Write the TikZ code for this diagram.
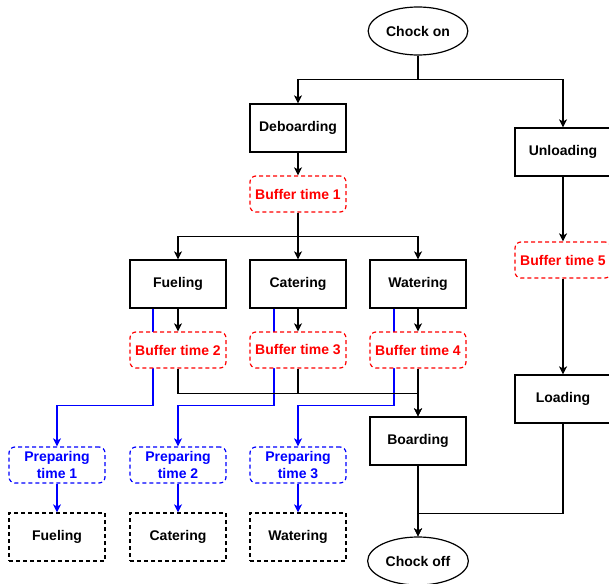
\documentclass[tikz,border=0pt]{standalone}
\usepackage{fontspec}
\setmainfont{Liberation Sans}
\usetikzlibrary{arrows.meta,shapes.geometric}

\begin{document}
\begin{tikzpicture}[
    x=1pt, y=-1pt,
    font=\bfseries\fontsize{14}{17}\selectfont,
    box/.style={draw, line width=1.2pt, fill=white, minimum width=96pt, minimum height=48pt, align=center},
    task/.style={box, dash pattern=on 4pt off 3pt},
    buffer/.style={draw=red, text=red, line width=1.2pt, fill=white, dash pattern=on 4pt off 3pt,
                   rounded corners=6pt, minimum width=96pt, minimum height=36pt, align=center},
    prep/.style={buffer, draw=blue, text=blue},
    term/.style={ellipse, draw, line width=1.2pt, fill=white, minimum width=96pt, minimum height=48pt},
    flow/.style={line width=1.2pt, -{Stealth[length=8pt, width=8pt, inset=2pt]}},
    link/.style={line width=1.2pt},
    blueflow/.style={flow, blue},
]
    \useasboundingbox (0,0) rectangle (609,583);
    \clip (0,0) rectangle (609,583);

    % Start and end
    \node[term] (chockon) at (418, 31) {Chock on};
    \node[term] (chockoff) at (418, 561) {Chock off};

    % Main tasks
    \node[box] (deboard) at (298, 128) {Deboarding};
    \node[box] (unload) at (563, 152) {Unloading};
    \node[box] (fuel) at (178, 284) {Fueling};
    \node[box] (cater) at (298, 284) {Catering};
    \node[box] (water) at (418, 284) {Watering};
    \node[box] (board) at (418, 441) {Boarding};
    \node[box] (load) at (563, 399) {Loading};

    % Preparing and follow-up tasks
    \node[prep] (prep1) at (57, 465) {Preparing\\time 1};
    \node[prep] (prep2) at (178, 465) {Preparing\\time 2};
    \node[prep] (prep3) at (298, 465) {Preparing\\time 3};
    \node[task] (fuel2) at (57, 537) {Fueling};
    \node[task] (cater2) at (178, 537) {Catering};
    \node[task] (water2) at (298, 537) {Watering};

    % Blue paths (behind the buffers)
    \draw[blueflow] ([xshift=-25pt]fuel.south) -- ++(0, 97) -| (prep1.north);
    \draw[blueflow] ([xshift=-24pt]cater.south) -- ++(0, 97) -| (prep2.north);
    \draw[blueflow] ([xshift=-24pt]water.south) -- ++(0, 97) -| (prep3.north);
    \draw[blueflow] (prep1.south) -- (fuel2.north);
    \draw[blueflow] (prep2.south) -- (cater2.north);
    \draw[blueflow] (prep3.south) -- (water2.north);

    % Buffers
    \node[buffer] (buf1) at (298, 194) {Buffer time 1};
    \node[buffer] (buf2) at (178, 350) {Buffer time 2};
    \node[buffer] (buf3) at (298, 350) {Buffer time 3};
    \node[buffer] (buf4) at (418, 350) {Buffer time 4};
    \node[buffer] (buf5) at (563, 260) {Buffer time 5};

    % Black flow
    \draw[flow] (chockon.south) -- ++(0, 24) -| (deboard.north);
    \draw[flow] (chockon.south) -- ++(0, 24) -| (unload.north);
    \draw[flow] (deboard.south) -- (buf1.north);
    \draw[flow] (buf1.south) -- ++(0, 24) -| (fuel.north);
    \draw[flow] (buf1.south) -- (cater.north);
    \draw[flow] (buf1.south) -- ++(0, 24) -| (water.north);
    \draw[flow] (fuel.south) -- (buf2.north);
    \draw[flow] (cater.south) -- (buf3.north);
    \draw[flow] (water.south) -- (buf4.north);
    \draw[flow] (buf2.south) -- ++(0, 25) -| (board.north);
    \draw[link] (buf3.south) -- ++(0, 25);
    \draw[flow] (buf4.south) -- (board.north);
    \draw[flow] (unload.south) -- (buf5.north);
    \draw[flow] (buf5.south) -- (load.north);
    \draw[flow] (board.south) -- (chockoff.north);
    \draw[flow] (load.south) -- ++(0, 90) -| (chockoff.north);
\end{tikzpicture}
\end{document}
